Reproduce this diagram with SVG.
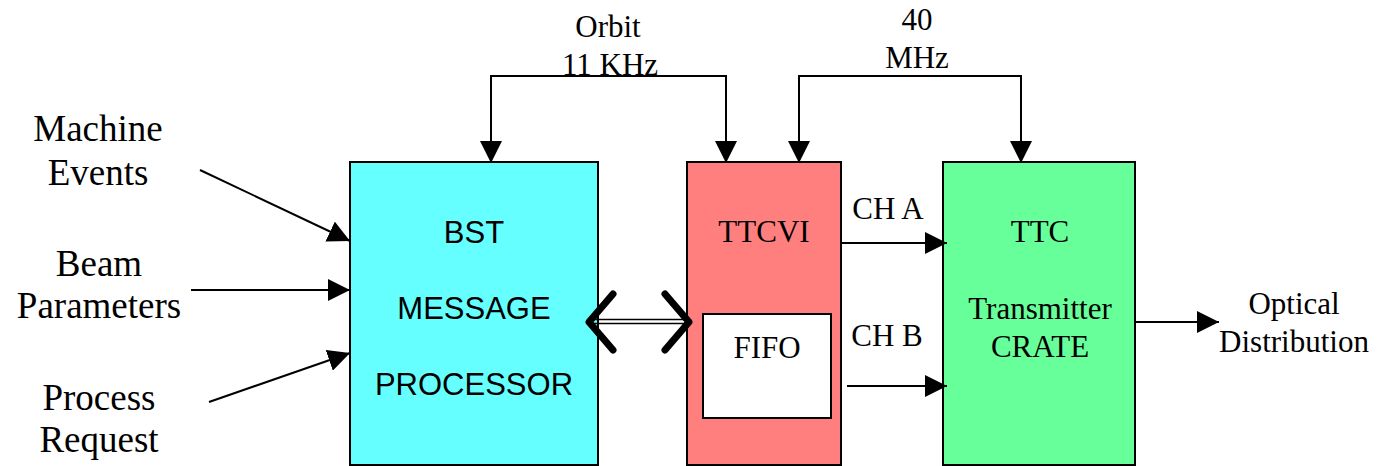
<svg xmlns="http://www.w3.org/2000/svg" width="1380" height="466" viewBox="0 0 1380 466">
  <defs>
    <marker id="arrow" markerUnits="userSpaceOnUse" markerWidth="22" markerHeight="22" viewBox="0 0 20 20" refX="20" refY="10" orient="auto">
      <path d="M0,0 L20,10 L0,20 Z" fill="#000"/>
    </marker>
    <style>
      .box { stroke: #000; stroke-width: 2; }
      .serif { font-family: "Liberation Serif", "Times New Roman", serif; fill: #000; text-anchor: middle; }
      .sans { font-family: "Liberation Sans", Arial, sans-serif; fill: #000; text-anchor: middle; font-size: 31px; }
      .s31 { font-size: 31px; }
      .s37 { font-size: 37px; }
      .wire { stroke: #000; stroke-width: 2; fill: none; }
      .arr { marker-end: url(#arrow); }
      .chev { fill: none; stroke: #000; stroke-width: 7; stroke-linecap: round; stroke-linejoin: round; }
    </style>
  </defs>
  <rect width="1380" height="466" fill="#fff"/>

  <!-- input labels -->
  <g id="machine-events">
    <text class="serif s37" x="98" y="141">Machine</text>
    <text class="serif s37" x="98" y="185">Events</text>
  </g>
  <g id="beam-parameters">
    <text class="serif s37" x="99" y="276">Beam</text>
    <text class="serif s37" x="99" y="318">Parameters</text>
  </g>
  <g id="process-request">
    <text class="serif s37" x="99" y="410">Process</text>
    <text class="serif s37" x="99" y="452">Request</text>
  </g>

  <!-- BST message processor -->
  <g id="bst">
    <rect class="box" x="350" y="162" width="248" height="303" fill="#66FFFF"/>
    <text class="sans" x="474" y="243">BST</text>
    <text class="sans" x="474" y="319">MESSAGE</text>
    <text class="sans" x="474" y="395">PROCESSOR</text>
  </g>

  <!-- TTCVI module with FIFO -->
  <g id="ttcvi">
    <rect class="box" x="687" y="162" width="154" height="303" fill="#FF7F7F"/>
    <text class="serif s31" x="764" y="242">TTCVI</text>
  </g>
  <g id="fifo">
    <rect class="box" x="703" y="314" width="128" height="104" fill="#fff"/>
    <text class="serif s31" x="767" y="358">FIFO</text>
  </g>

  <!-- TTC transmitter crate -->
  <g id="ttc">
    <rect class="box" x="943" y="162" width="192" height="303" fill="#66FF99"/>
    <text class="serif s31" x="1040" y="242">TTC</text>
    <text class="serif s31" x="1040" y="319">Transmitter</text>
    <text class="serif s31" x="1040" y="357">CRATE</text>
  </g>

  <!-- clock labels -->
  <g id="orbit">
    <text class="serif s31" x="608" y="37">Orbit</text>
    <text class="serif s31" x="610" y="75">11 KHz</text>
  </g>
  <g id="clock40">
    <text class="serif s31" x="917" y="30">40</text>
    <text class="serif s31" x="917" y="68">MHz</text>
  </g>

  <g id="optical">
    <text class="serif s31" x="1294" y="314">Optical</text>
    <text class="serif s31" x="1294" y="352">Distribution</text>
  </g>

  <!-- channel labels -->
  <g id="channels">
    <text class="serif s31" x="888" y="219">CH A</text>
    <text class="serif s31" x="887" y="346">CH B</text>
  </g>

  <!-- connectors -->
  <g id="connectors">
    <line class="wire arr" x1="200" y1="170" x2="350" y2="241"/>
    <line class="wire arr" x1="191" y1="290" x2="350" y2="290"/>
    <line class="wire arr" x1="209" y1="402" x2="350" y2="353"/>

    <!-- orbit clock distribution -->
    <line class="wire" x1="490" y1="76" x2="727" y2="76"/>
    <line class="wire arr" x1="491" y1="75" x2="491" y2="163"/>
    <line class="wire arr" x1="726" y1="75" x2="726" y2="163"/>

    <!-- 40 MHz clock distribution -->
    <line class="wire" x1="798" y1="76" x2="1022" y2="76"/>
    <line class="wire arr" x1="799" y1="75" x2="799" y2="163"/>
    <line class="wire arr" x1="1021" y1="75" x2="1021" y2="163"/>

    <line class="wire arr" x1="841" y1="243" x2="947" y2="243"/>
    <line class="wire arr" x1="847" y1="386" x2="947" y2="386"/>
    <line class="wire arr" x1="1135" y1="322" x2="1219" y2="322"/>

    <!-- bidirectional bus -->
    <line x1="590" y1="319.5" x2="688" y2="319.5" stroke="#000" stroke-width="1.5"/>
    <line x1="590" y1="323.5" x2="688" y2="323.5" stroke="#000" stroke-width="1.5"/>
    <polyline class="chev" points="613,294 589,322 613,350"/>
    <polyline class="chev" points="665,294 689,322 665,350"/>
  </g>
</svg>
